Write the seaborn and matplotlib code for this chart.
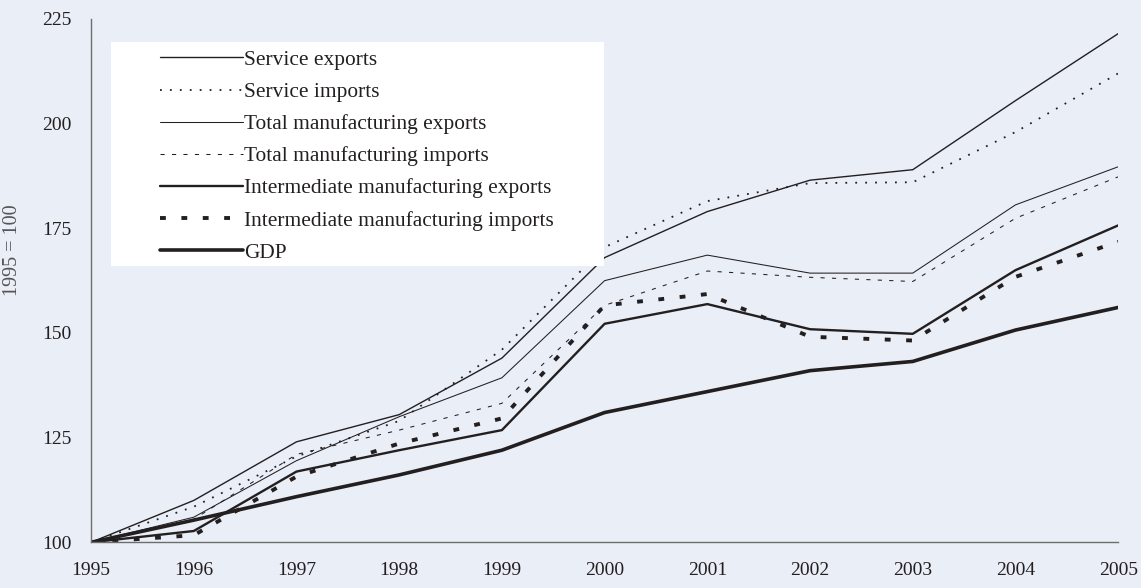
import numpy as np
import pandas as pd
import seaborn as sns
import matplotlib.pyplot as plt
from matplotlib.patches import Rectangle

# values (index, 1995 = 100)
years = [1995, 1996, 1997, 1998, 1999, 2000, 2001, 2002, 2003, 2004, 2005]
service_exports = [100, 110, 124, 130.5, 144, 168, 179, 186.5, 189, 205.5, 221.5]
service_imports = [100, 108.5, 120.5, 129, 146, 170.5, 181.5, 185.8, 186, 198, 212]
total_mfg_exports = [100, 106, 119.5, 130, 139.3, 162.5, 168.6, 164.3, 164.3, 180.6, 189.7]
total_mfg_imports = [100, 105.5, 121, 126.8, 133.2, 156.6, 164.8, 163.3, 162.3, 177.4, 187.3]
int_mfg_exports = [100, 102.7, 116.9, 122, 126.8, 152.2, 156.9, 150.9, 149.8, 165, 175.7]
int_mfg_imports = [100, 101.7, 115.7, 123.6, 129.6, 156.6, 159.3, 149.1, 148.2, 163.4, 171.8]
gdp = [100, 105.3, 110.9, 116.1, 122, 131, 136, 141, 143.2, 150.7, 156.1]

series_labels = [
    "Service exports",
    "Service imports",
    "Total manufacturing exports",
    "Total manufacturing imports",
    "Intermediate manufacturing exports",
    "Intermediate manufacturing imports",
    "GDP",
]
series_values = [service_exports, service_imports, total_mfg_exports,
                 total_mfg_imports, int_mfg_exports, int_mfg_imports, gdp]
y_ticks = [100, 125, 150, 175, 200, 225]

BG = "#E9EEF7"
INK = "#231F20"

# (linewidth, linestyle) per series
styles = [
    (1.0, "-"),
    (1.3, (0, (1, 4.5))),
    (0.75, "-"),
    (0.75, (0, (4, 7))),
    (1.7, "-"),
    (2.8, (0, (1.5, 4))),
    (2.6, "-"),
]

sns.set_style("white")
plt.rcParams["font.family"] = ["Liberation Serif", "DejaVu Serif"]

fig = plt.figure(figsize=(11.41, 5.88), dpi=100)
fig.patch.set_facecolor(BG)
ax = fig.add_axes([0.0798, 0.0777, 0.9002, 0.89])
ax.set_facecolor(BG)

for label, vals, (lw, ls) in zip(series_labels, series_values, styles):
    df = pd.DataFrame({"year": years, "value": vals})
    sns.lineplot(data=df, x="year", y="value", ax=ax, color=INK,
                 linewidth=lw, linestyle=ls, label=label, zorder=2)

ax.set_xlim(1995, 2005)
ax.set_ylim(100, 225)
ax.set_xticks(years)
ax.set_yticks(y_ticks)
ax.tick_params(axis="both", direction="out", length=6, width=1,
               color="#6d6d6d", labelsize=14, labelcolor=INK, pad=8)
ax.set_xlabel("")
ax.set_ylabel("1995 = 100", fontsize=14.5, color="#555555")
ax.yaxis.set_label_coords(-0.067, 0.559)

for side in ["top", "right"]:
    ax.spines[side].set_visible(False)
for side in ["left", "bottom"]:
    ax.spines[side].set_color("#6d6d6d")
    ax.spines[side].set_linewidth(1.0)

# white legend panel sitting over the lines
ax.add_patch(Rectangle((0.0195, 0.528), 0.48, 0.428, transform=ax.transAxes,
                       facecolor="white", edgecolor="none", zorder=3))

leg = ax.legend(loc="upper left", bbox_to_anchor=(0.067, 0.941),
                frameon=False, fontsize=15.4, handlelength=3.9,
                handletextpad=0.05, labelspacing=0.57, borderpad=0,
                borderaxespad=0)
leg.set_zorder(4)
for t in leg.get_texts():
    t.set_color(INK)

fig.savefig("out.png", dpi=100, facecolor=BG)
